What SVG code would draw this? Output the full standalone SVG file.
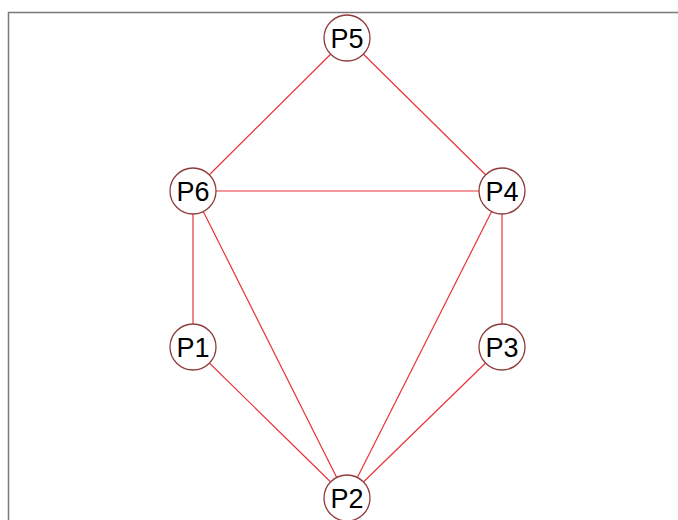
<svg xmlns="http://www.w3.org/2000/svg" width="678" height="520" viewBox="0 0 678 520">
<style>
.edge{stroke:#e8343a;stroke-width:1.2;fill:none}
.node circle{fill:#ffffff;stroke:#8e3b3b;stroke-width:1.3}
.node text{font-family:"Liberation Sans",Arial,sans-serif;font-size:27px;fill:#000;text-anchor:middle;dominant-baseline:central}
</style>
<rect x="0" y="0" width="678" height="520" fill="#ffffff"/>
<path d="M8.5,520 V12.5 H678" fill="none" stroke="#7a7a7a" stroke-width="1.5"/>
<g id="connectors">
<line class="edge" x1="347" y1="38" x2="193" y2="191"/>
<line class="edge" x1="347" y1="38" x2="502" y2="191"/>
<line class="edge" x1="193" y1="191" x2="502" y2="191"/>
<line class="edge" x1="193" y1="191" x2="193" y2="347"/>
<line class="edge" x1="193" y1="191" x2="347" y2="498"/>
<line class="edge" x1="502" y1="191" x2="347" y2="498"/>
<line class="edge" x1="502" y1="191" x2="502" y2="347"/>
<line class="edge" x1="193" y1="347" x2="347" y2="498"/>
<line class="edge" x1="502" y1="347" x2="347" y2="498"/>
</g>
<g id="P5" class="node"><circle cx="347" cy="38" r="23"/><text x="347" y="39">P5</text></g>
<g id="P6" class="node"><circle cx="193" cy="191" r="23"/><text x="193" y="192">P6</text></g>
<g id="P4" class="node"><circle cx="502" cy="191" r="23"/><text x="502" y="192">P4</text></g>
<g id="P1" class="node"><circle cx="193" cy="347" r="23"/><text x="193" y="348">P1</text></g>
<g id="P3" class="node"><circle cx="502" cy="347" r="23"/><text x="502" y="348">P3</text></g>
<g id="P2" class="node"><circle cx="347" cy="498" r="23"/><text x="347" y="499">P2</text></g>
</svg>
